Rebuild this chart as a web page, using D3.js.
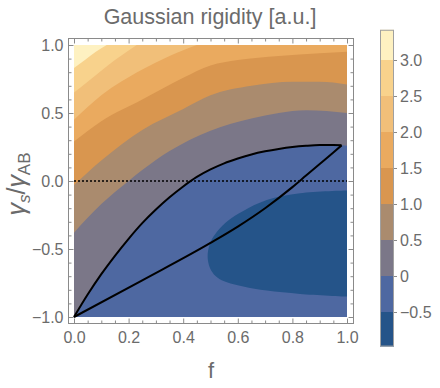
<!DOCTYPE html>
<meta charset="utf-8">
<style>
  body { margin: 0; background: #fff; }
  svg text { font-family: "Liberation Sans", Arial, sans-serif; fill: #6b6b6b; }
  .axis path { display: none; }
  .axis line { stroke: #8a8a8a; }
  .line { fill: none; stroke: #000; stroke-width: 2px; }
</style>
<svg width="440" height="388"></svg>
<script src="https://cdn.jsdelivr.net/npm/d3@7"></script>
<script>

  // contour lines, [f, gamma]
  var c30 = [[0, 0.83], [0.04, 0.89], [0.08, 0.95], [0.12, 1.0]];
  var c25 = [[0, 0.65], [0.05, 0.73], [0.1, 0.81], [0.15, 0.89], [0.2, 0.96], [0.23, 1.0]];
  var c20 = [[0, 0.45], [0.1, 0.63], [0.25, 0.82], [0.35, 0.92], [0.45, 1.0]];
  var c15 = [[0, 0.29], [0.1, 0.44], [0.25, 0.6], [0.4, 0.76], [0.5, 0.85], [0.6, 0.89], [0.75, 0.92], [0.9, 0.94], [1.0, 0.95]];
  var c10 = [[0, -0.03], [0.1, 0.15], [0.25, 0.375], [0.4, 0.53], [0.5, 0.63], [0.65, 0.7], [0.8, 0.73], [0.9, 0.73], [1.0, 0.71]];
  var c05 = [[0, -0.38], [0.1, -0.17], [0.2, 0], [0.25, 0.08], [0.35, 0.22], [0.5, 0.37], [0.65, 0.46], [0.75, 0.5], [0.85, 0.52], [1.0, 0.5]];
  var c00 = [[0, -1], [0.05, -0.835], [0.1, -0.685], [0.15, -0.55], [0.2, -0.425], [0.25, -0.31], [0.3, -0.21], [0.35, -0.12],
             [0.4, -0.04], [0.45, 0.03], [0.5, 0.085], [0.55, 0.13], [0.6, 0.165], [0.65, 0.195], [0.7, 0.218], [0.75, 0.236],
             [0.8, 0.25], [0.85, 0.259], [0.9, 0.264], [0.95, 0.264], [0.98, 0.262], [1.0, 0.26]];
  var cm05 = [[1.0, -0.07], [0.828, -0.09], [0.706, -0.14], [0.62, -0.22], [0.565, -0.29], [0.525, -0.37], [0.5, -0.45],
              [0.49, -0.53], [0.492, -0.6], [0.503, -0.66], [0.525, -0.71], [0.56, -0.745], [0.62, -0.775], [0.706, -0.806],
              [0.828, -0.83], [1.0, -0.85]];

  // the two black curves
  var upperCurve = c00.slice(0, 21);
  var lowerCurve = [[0, -1], [0.25, -0.73], [0.5, -0.455], [0.6, -0.335], [0.7, -0.2], [0.8, -0.045], [0.85, 0.04],
                    [0.9, 0.125], [0.95, 0.21], [0.98, 0.262]];

  var levels = [-0.5, 0, 0.5, 1.0, 1.5, 2.0, 2.5, 3.0];
  var valueRange = [-0.98, 3.42];
  var colors = ["#255489", "#4e68a1", "#7b7788", "#aa8b6e", "#d9964f", "#eaaa5f", "#f1bf79", "#f8d28c", "#fef1c1"];

  var xTicks = [0, 0.2, 0.4, 0.6, 0.8, 1.0];
  var yTicks = [-1.0, -0.5, 0, 0.5, 1.0];

  var svg = d3.select("svg");

  var x = d3.scaleLinear().domain([0, 1]).range([74, 347]),
      y = d3.scaleLinear().domain([-1, 1]).range([317, 45]);

  svg.append("clipPath").attr("id", "clip")
    .append("rect")
    .attr("x", x(0)).attr("y", y(1))
    .attr("width", x(1) - x(0)).attr("height", y(-1) - y(1));

  var g = svg.append("g").attr("clip-path", "url(#clip)");

  g.append("rect")
    .attr("x", x(0)).attr("y", y(1))
    .attr("width", x(1) - x(0)).attr("height", y(-1) - y(1))
    .attr("fill", colors[1]);

  var area = d3.area()
    .curve(d3.curveMonotoneX)
    .x(function(d) { return x(d[0]); })
    .y0(y(1))
    .y1(function(d) { return y(d[1]); });

  var bands = [c00, c05, c10, c15, c20, c25, c30];
  bands.forEach(function(c, i) {
    g.append("path")
      .attr("d", area(c))
      .attr("fill", colors[i + 2]);
  });

  var line = d3.line()
    .curve(d3.curveMonotoneX)
    .x(function(d) { return x(d[0]); })
    .y(function(d) { return y(d[1]); });

  var loop = d3.line()
    .curve(d3.curveCatmullRom)
    .x(function(d) { return x(d[0]); })
    .y(function(d) { return y(d[1]); });

  g.append("path")
    .attr("d", loop(cm05) + "Z")
    .attr("fill", colors[0]);

  // dotted zero line
  svg.append("line")
    .attr("x1", x(0)).attr("x2", x(1))
    .attr("y1", y(0)).attr("y2", y(0))
    .attr("stroke", "#000")
    .attr("stroke-width", 1.6)
    .attr("stroke-dasharray", "2,2");

  svg.append("path").attr("class", "line").attr("d", line(upperCurve));
  svg.append("path").attr("class", "line").attr("d", line(lowerCurve));

  // frame
  var fx0 = 68.5, fx1 = 353.5, fy0 = 38.5, fy1 = 323.5;
  svg.append("rect")
    .attr("x", fx0).attr("y", fy0)
    .attr("width", fx1 - fx0).attr("height", fy1 - fy0)
    .attr("fill", "none")
    .attr("stroke", "#8a8a8a");

  var xMinor = d3.range(0, 1.0001, 0.05).filter(function(v) { return Math.abs(v * 5 - Math.round(v * 5)) > 1e-6; });
  var yMinor = d3.range(-1, 1.0001, 0.1).filter(function(v) { return Math.abs(v * 2 - Math.round(v * 2)) > 1e-6; });
  var fmt = d3.format(".1f");

  svg.append("g").attr("class", "axis")
    .attr("transform", "translate(0," + fy1 + ")")
    .call(d3.axisBottom(x).tickValues(xTicks).tickSize(-5).tickPadding(8).tickFormat(fmt))
    .selectAll("text").style("font-size", "16px");
  svg.append("g").attr("class", "axis")
    .attr("transform", "translate(0," + fy1 + ")")
    .call(d3.axisBottom(x).tickValues(xMinor).tickSize(-3).tickFormat(""));
  svg.append("g").attr("class", "axis")
    .attr("transform", "translate(0," + fy0 + ")")
    .call(d3.axisTop(x).tickValues(xTicks).tickSize(-5).tickFormat(""));
  svg.append("g").attr("class", "axis")
    .attr("transform", "translate(0," + fy0 + ")")
    .call(d3.axisTop(x).tickValues(xMinor).tickSize(-3).tickFormat(""));

  svg.append("g").attr("class", "axis")
    .attr("transform", "translate(" + fx0 + ",0)")
    .call(d3.axisLeft(y).tickValues(yTicks).tickSize(-5).tickPadding(5).tickFormat(fmt))
    .selectAll("text").style("font-size", "16px");
  svg.append("g").attr("class", "axis")
    .attr("transform", "translate(" + fx0 + ",0)")
    .call(d3.axisLeft(y).tickValues(yMinor).tickSize(-3).tickFormat(""));
  svg.append("g").attr("class", "axis")
    .attr("transform", "translate(" + fx1 + ",0)")
    .call(d3.axisRight(y).tickValues(yTicks).tickSize(-5).tickFormat(""));
  svg.append("g").attr("class", "axis")
    .attr("transform", "translate(" + fx1 + ",0)")
    .call(d3.axisRight(y).tickValues(yMinor).tickSize(-3).tickFormat(""));

  // title and axis labels
  svg.append("text")
    .attr("x", 210).attr("y", 24)
    .attr("text-anchor", "middle")
    .style("font-size", "21.5px")
    .text("Gaussian rigidity [a.u.]");

  svg.append("text")
    .attr("x", 211).attr("y", 378)
    .attr("text-anchor", "middle")
    .style("font-size", "22px")
    .text("f");

  var yl = svg.append("text")
    .attr("transform", "translate(25,184) rotate(-90)")
    .attr("text-anchor", "middle")
    .style("font-size", "25px");
  yl.append("tspan").style("font-style", "italic").text("γ");
  yl.append("tspan").style("font-style", "italic").style("font-size", "17px").attr("dy", 5).text("s");
  yl.append("tspan").attr("dy", -5).text("/");
  yl.append("tspan").style("font-style", "italic").text("γ");
  yl.append("tspan").style("font-size", "17px").attr("dy", 5).text("AB");

  // colour bar
  var cb = d3.scaleLinear().domain([-0.5, 3.0]).range([312, 60]);
  var edges = [valueRange[0]].concat(levels, [valueRange[1]]);
  var barX = 380, barW = 14;

  svg.selectAll(".bin")
    .data(colors)
    .enter().append("rect")
    .attr("class", "bin")
    .attr("x", barX)
    .attr("width", barW)
    .attr("y", function(d, i) { return cb(edges[i + 1]); })
    .attr("height", function(d, i) { return cb(edges[i]) - cb(edges[i + 1]); })
    .attr("fill", function(d) { return d; });

  svg.append("rect")
    .attr("x", barX + 0.5).attr("y", cb(valueRange[1]) + 0.5)
    .attr("width", barW - 1).attr("height", cb(valueRange[0]) - cb(valueRange[1]) - 1)
    .attr("fill", "none")
    .attr("stroke", "#a0a0a0");

  svg.append("g").attr("class", "axis")
    .attr("transform", "translate(" + (barX + barW) + ",0)")
    .call(d3.axisRight(cb).tickValues(levels).tickSize(3).tickPadding(3)
      .tickFormat(function(v) { return v === 0 ? "0" : fmt(v); }))
    .selectAll("text").style("font-size", "16px");

</script>
